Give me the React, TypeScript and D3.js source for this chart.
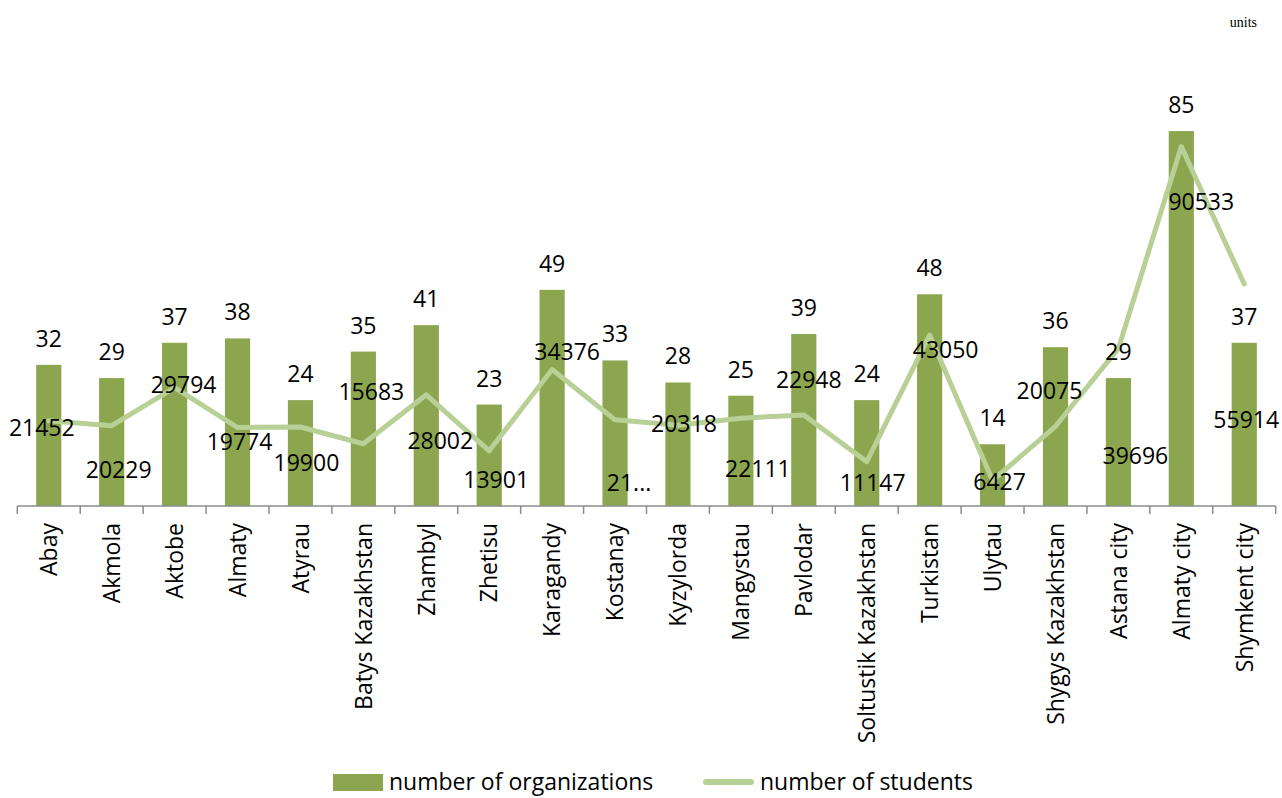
import * as d3 from "d3";
import React from "react";

// regions (x axis)
const regions = [
	"Abay", "Akmola", "Aktobe", "Almaty", "Atyrau", "Batys Kazakhstan", "Zhambyl",
	"Zhetisu", "Karagandy", "Kostanay", "Kyzylorda", "Mangystau", "Pavlodar",
	"Soltustik Kazakhstan", "Turkistan", "Ulytau", "Shygys Kazakhstan",
	"Astana city", "Almaty city", "Shymkent city",
];

// bars, left axis
const organizations = [32, 29, 37, 38, 24, 35, 41, 23, 49, 33, 28, 25, 39, 24, 48, 14, 36, 29, 85, 37];

// line, hidden right axis
const students = [
	21452, 20229, 29794, 19774, 19900, 15683, 28002, 13901, 34376, 21700,
	20318, 22111, 22948, 11147, 43050, 6427, 20075, 39696, 90533, 55914,
];

// label text as printed (one was cut short in the source)
const studentLabels = students.map((v, i) => (i === 9 ? "21..." : String(v)));

// manual nudges of the student labels, as placed in the original chart
const studentLabelShift: [number, number][] = [
	[-7, 7], [7, 44], [9, -3], [2, 14], [6, 36], [8, -52], [14, 46], [7, 29],
	[15, -18], [14, 63], [6, -2], [17, 51], [5, -35], [6, 21], [16, 15], [7, 1],
	[-6, -36], [17, 107], [20, 55], [2, 136],
];

const W = 1282;
const H = 798;
const plot = { left: 17.3, right: 1275.7, top: 109, bottom: 506 };

const barColor = "#8ba64f";
const lineColor = "#b8cf96";
const axisColor = "#8c8c8c";
const font = "'Open Sans', sans-serif";

const App = () => {
	const x = d3
		.scaleBand<string>()
		.domain(regions)
		.range([plot.left, plot.right])
		.paddingInner(0)
		.paddingOuter(0);
	const yBar = d3.scaleLinear().domain([0, 90]).range([plot.bottom, plot.top]);
	const yLine = d3.scaleLinear().domain([0, 100000]).range([plot.bottom, plot.top]);

	const barW = x.bandwidth() * 0.4;
	const cx = (r: string) => (x(r) ?? 0) + x.bandwidth() / 2;

	const line = d3
		.line<number>()
		.x((_, i) => cx(regions[i]))
		.y((d) => yLine(d));

	const boundaries = d3.range(regions.length + 1).map((i) => plot.left + i * x.bandwidth());

	return (
		<div style={{ position: "absolute", left: 0, top: 0 }}>
			<svg width={W} height={H} viewBox={`0 0 ${W} ${H}`} style={{ display: "block", background: "#fff" }}>
				<text x={1257} y={27} textAnchor="end" fontFamily="'Liberation Serif', 'Times New Roman', serif" fontSize={14} fill="#000">
					units
				</text>

				<g className="bars">
					{regions.map((r, i) => (
						<rect
							key={r}
							x={cx(r) - barW / 2}
							y={yBar(organizations[i])}
							width={barW}
							height={plot.bottom - yBar(organizations[i])}
							fill={barColor}
						/>
					))}
				</g>

				<path d={line(students) ?? ""} fill="none" stroke={lineColor} strokeWidth={5} strokeLinejoin="round" strokeLinecap="round" />

				<g className="axis">
					<line x1={plot.left} x2={plot.right} y1={plot.bottom} y2={plot.bottom} stroke={axisColor} strokeWidth={1.5} />
					{boundaries.map((b, i) => (
						<line key={i} x1={b} x2={b} y1={plot.bottom} y2={plot.bottom + 8} stroke={axisColor} strokeWidth={1.5} />
					))}
					{regions.map((r) => (
						<text
							key={r}
							transform={`translate(${cx(r)},${plot.bottom + 17}) rotate(-90)`}
							textAnchor="end"
							dy="0.36em"
							fontFamily={font}
							fontSize={23}
							fill="#000"
						>
							{r}
						</text>
					))}
				</g>

				<g className="bar-labels">
					{regions.map((r, i) => (
						<text
							key={r}
							x={cx(r)}
							y={yBar(organizations[i]) - 18}
							textAnchor="middle"
							fontFamily={font}
							fontSize={23}
							fill="#000"
						>
							{organizations[i]}
						</text>
					))}
				</g>

				<g className="line-labels">
					{regions.map((r, i) => (
						<text
							key={r}
							x={cx(r) + studentLabelShift[i][0]}
							y={yLine(students[i]) + studentLabelShift[i][1]}
							dy="0.36em"
							textAnchor="middle"
							fontFamily={font}
							fontSize={23}
							fill="#000"
						>
							{studentLabels[i]}
						</text>
					))}
				</g>

				<g className="legend" fontFamily={font} fontSize={23} fill="#000">
					<rect x={333} y={774} width={50} height={17} fill={barColor} />
					<text x={389} y={782} dy="0.36em">number of organizations</text>
					<line x1={706} x2={751} y1={782} y2={782} stroke={lineColor} strokeWidth={6} strokeLinecap="round" />
					<text x={760} y={782} dy="0.36em">number of students</text>
				</g>
			</svg>
		</div>
	);
};

export default App;
